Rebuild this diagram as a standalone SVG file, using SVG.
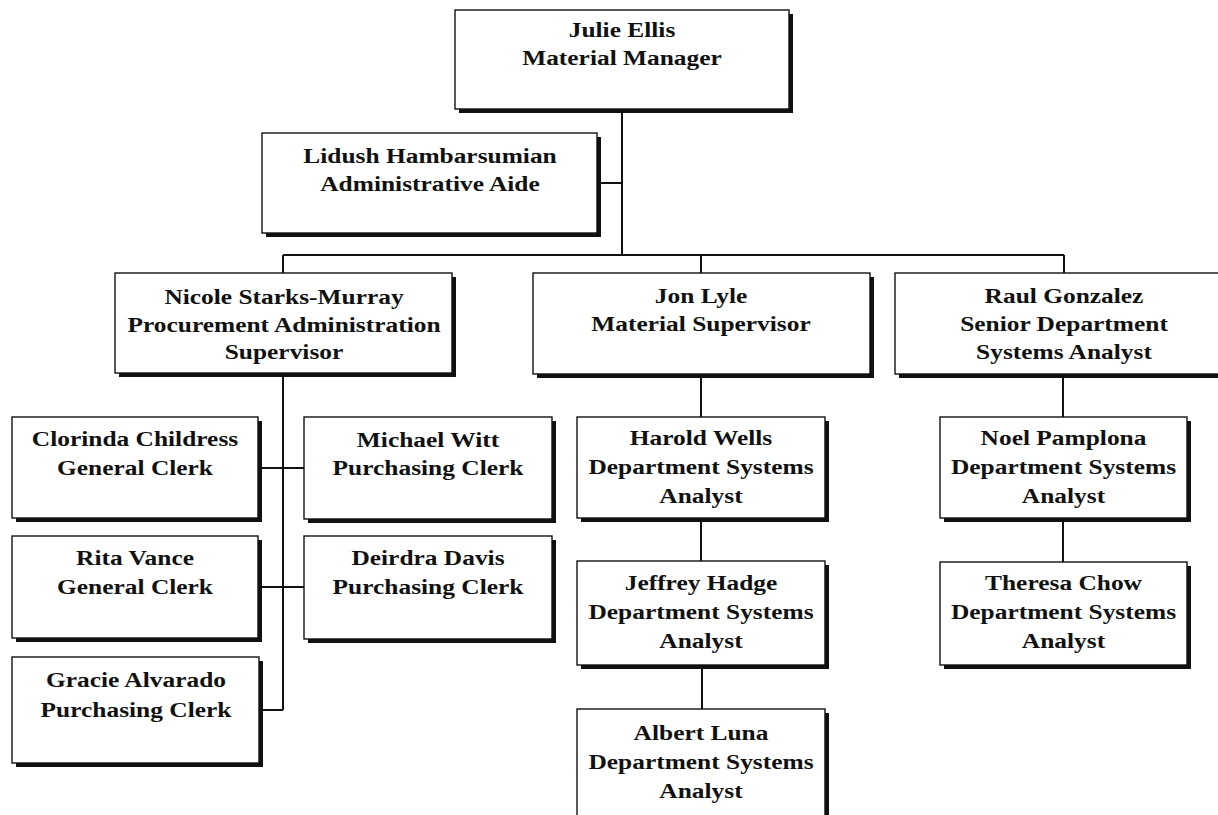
<svg xmlns="http://www.w3.org/2000/svg" width="1218" height="815" viewBox="0 0 1218 815">
<style>
.bg{fill:#fff}
.sh{fill:#111}
.box{fill:#fff;stroke:#111;stroke-width:1.4}
.t{font-family:'Liberation Serif','Times New Roman',serif;font-weight:bold;font-size:20.5px;text-anchor:middle;fill:#111}
.c{stroke:#111;stroke-width:2;fill:none}
</style>
<rect class="bg" x="0" y="0" width="1218" height="815"/>
<g id="connectors">
<path class="c" d="M622,109 V255 M601,183 H622 M283,255 H1064 M283,255 V273 M701,255 V273 M1064,255 V273"/>
<path class="c" d="M283,373 V710 M262,468 H304 M262,587 H304 M263,710 H283"/>
<path class="c" d="M701,375 V417 M701,519 V561 M702,665 V709"/>
<path class="c" d="M1063,375 V417 M1063,519 V562"/>
</g>
<g id="julie">
<rect class="sh" x="459" y="14" width="334" height="99"/>
<rect class="box" x="455" y="10" width="334" height="99"/>
<g transform="translate(622,0) scale(1.24,1)"><text class="t" x="0" y="37">Julie Ellis</text><text class="t" x="0" y="65">Material Manager</text></g>
</g>
<g id="lidush">
<rect class="sh" x="266" y="137" width="335" height="100"/>
<rect class="box" x="262" y="133" width="335" height="100"/>
<g transform="translate(430,0) scale(1.24,1)"><text class="t" x="0" y="163">Lidush Hambarsumian</text><text class="t" x="0" y="191">Administrative Aide</text></g>
</g>
<g id="nicole">
<rect class="sh" x="119" y="277" width="337" height="100"/>
<rect class="box" x="115" y="273" width="337" height="100"/>
<g transform="translate(284,0) scale(1.24,1)"><text class="t" x="0" y="304">Nicole Starks-Murray</text><text class="t" x="0" y="332">Procurement Administration</text><text class="t" x="0" y="359">Supervisor</text></g>
</g>
<g id="jon">
<rect class="sh" x="537" y="277" width="337" height="101"/>
<rect class="box" x="533" y="273" width="337" height="101"/>
<g transform="translate(701,0) scale(1.24,1)"><text class="t" x="0" y="303">Jon Lyle</text><text class="t" x="0" y="331">Material Supervisor</text></g>
</g>
<g id="raul">
<rect class="sh" x="899" y="277" width="337" height="101"/>
<rect class="box" x="895" y="273" width="337" height="101"/>
<g transform="translate(1064,0) scale(1.24,1)"><text class="t" x="0" y="303">Raul Gonzalez</text><text class="t" x="0" y="331">Senior Department</text><text class="t" x="0" y="359">Systems Analyst</text></g>
</g>
<g id="clorinda">
<rect class="sh" x="16" y="421" width="246" height="101"/>
<rect class="box" x="12" y="417" width="246" height="101"/>
<g transform="translate(135,0) scale(1.24,1)"><text class="t" x="0" y="446">Clorinda Childress</text><text class="t" x="0" y="475">General Clerk</text></g>
</g>
<g id="michael">
<rect class="sh" x="308" y="421" width="248" height="102"/>
<rect class="box" x="304" y="417" width="248" height="102"/>
<g transform="translate(428,0) scale(1.24,1)"><text class="t" x="0" y="447">Michael Witt</text><text class="t" x="0" y="475">Purchasing Clerk</text></g>
</g>
<g id="rita">
<rect class="sh" x="16" y="540" width="246" height="102"/>
<rect class="box" x="12" y="536" width="246" height="102"/>
<g transform="translate(135,0) scale(1.24,1)"><text class="t" x="0" y="565">Rita Vance</text><text class="t" x="0" y="594">General Clerk</text></g>
</g>
<g id="deirdra">
<rect class="sh" x="308" y="540" width="248" height="103"/>
<rect class="box" x="304" y="536" width="248" height="103"/>
<g transform="translate(428,0) scale(1.24,1)"><text class="t" x="0" y="565">Deirdra Davis</text><text class="t" x="0" y="594">Purchasing Clerk</text></g>
</g>
<g id="gracie">
<rect class="sh" x="16" y="661" width="247" height="106"/>
<rect class="box" x="12" y="657" width="247" height="106"/>
<g transform="translate(136,0) scale(1.24,1)"><text class="t" x="0" y="687">Gracie Alvarado</text><text class="t" x="0" y="717">Purchasing Clerk</text></g>
</g>
<g id="harold">
<rect class="sh" x="581" y="421" width="248" height="101"/>
<rect class="box" x="577" y="417" width="248" height="101"/>
<g transform="translate(701,0) scale(1.24,1)"><text class="t" x="0" y="445">Harold Wells</text><text class="t" x="0" y="474">Department Systems</text><text class="t" x="0" y="503">Analyst</text></g>
</g>
<g id="jeffrey">
<rect class="sh" x="581" y="565" width="248" height="104"/>
<rect class="box" x="577" y="561" width="248" height="104"/>
<g transform="translate(701,0) scale(1.24,1)"><text class="t" x="0" y="590">Jeffrey Hadge</text><text class="t" x="0" y="619">Department Systems</text><text class="t" x="0" y="648">Analyst</text></g>
</g>
<g id="albert">
<rect class="sh" x="581" y="713" width="248" height="120"/>
<rect class="box" x="577" y="709" width="248" height="120"/>
<g transform="translate(701,0) scale(1.24,1)"><text class="t" x="0" y="740">Albert Luna</text><text class="t" x="0" y="769">Department Systems</text><text class="t" x="0" y="798">Analyst</text></g>
</g>
<g id="noel">
<rect class="sh" x="944" y="421" width="247" height="101"/>
<rect class="box" x="940" y="417" width="247" height="101"/>
<g transform="translate(1063.5,0) scale(1.24,1)"><text class="t" x="0" y="445">Noel Pamplona</text><text class="t" x="0" y="474">Department Systems</text><text class="t" x="0" y="503">Analyst</text></g>
</g>
<g id="theresa">
<rect class="sh" x="944" y="566" width="247" height="103"/>
<rect class="box" x="940" y="562" width="247" height="103"/>
<g transform="translate(1063.5,0) scale(1.24,1)"><text class="t" x="0" y="590">Theresa Chow</text><text class="t" x="0" y="619">Department Systems</text><text class="t" x="0" y="648">Analyst</text></g>
</g>
</svg>
